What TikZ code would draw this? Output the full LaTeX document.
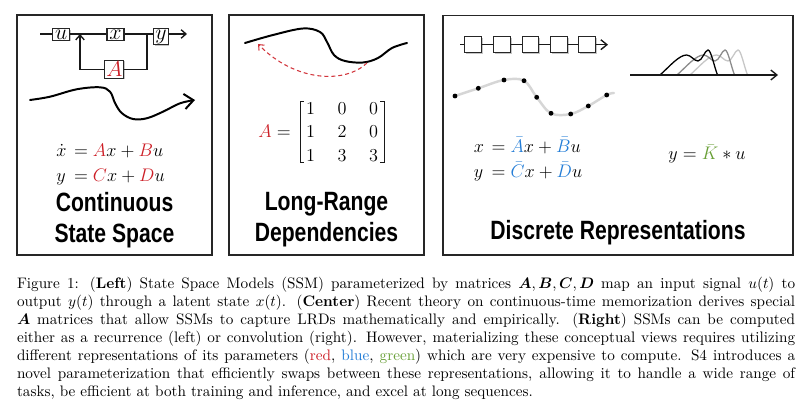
\documentclass[tikz,border=0pt]{standalone}
\usepackage{amsmath,bm}
\usepackage{fontspec}
\newfontfamily\titlefont[FakeStretch=0.8]{Liberation Sans}
\usetikzlibrary{arrows.meta,shadows,matrix}
\definecolor{myred}{RGB}{205,30,38}
\definecolor{myblue}{RGB}{35,125,215}
\definecolor{mygreen}{RGB}{105,160,55}
\begin{document}
\begin{tikzpicture}[x=0.658pt,y=-0.658pt,
  every node/.style={inner sep=0pt},
  panelbox/.style={draw=black!85,line width=1.3pt},
  shadowed/.style={drop shadow={shadow xshift=0.6pt,shadow yshift=-0.6pt,fill=black!45}},
  blk/.style={draw=black!85,line width=0.7pt,fill=white,inner xsep=1pt,inner ysep=0.7pt,font=\fontsize{13.5}{15}\selectfont,shadowed},
  chainbox/.style={draw=black!85,line width=0.7pt,fill=white,minimum width=11pt,minimum height=10.5pt,shadowed},
  wire/.style={line width=0.9pt,draw=black!90},
  arr/.style={-{Straight Barb[length=3.2pt,width=5.6pt]}},
  wave/.style={line width=1.3pt,line cap=round},
  ttl/.style={font=\titlefont\bfseries\fontsize{17.4}{20.1}\selectfont,align=center,anchor=north},
  eqn/.style={font=\fontsize{12.8}{16.4}\selectfont},
  capline/.style={anchor=base west,font=\fontsize{10}{12}\selectfont},
  brk/.style={line width=0.65pt,draw=black!90}
]
\fill[white] (0,0) rectangle (812,417);
\useasboundingbox (0,0) rectangle (812,417);

% ---------------- Panel 1 ----------------
\draw[panelbox] (17,15) rectangle (212,255);
\node[blk,anchor=north,minimum width=11.2pt] (u) at (61.3,28.3) {$u$};
\node[blk,anchor=north,minimum width=11.2pt] (x) at (115.5,28.3) {$x$};
\node[blk,anchor=north] (y) at (161,28.3) {$y$};
\node[blk,minimum width=11pt,inner sep=1pt] (A) at (114.3,69.5) {$\color{myred}A$};
\coordinate (in) at (40,34);
\coordinate (j1) at (80,34);
\coordinate (j2) at (147,34);
\coordinate (out) at (187,34);
\draw[wire] (in) -- (in -| u.west);
\draw[wire] (u.east |- j1) -- (j1) -- (j1 -| x.west);
\draw[wire] (x.east |- j2) -- (j2) -- (j2 -| y.west);
\draw[wire,arr] (y.east |- out) -- (out);
\draw[wire] (j2) |- (A.east);
\draw[wire,arr] (A.west) -| (j1);

\draw[wave,-{Straight Barb[length=6pt,width=10pt]}] plot[smooth,tension=0.6] coordinates {(30,100) (50,96.7) (76.7,89.3) (100,87.3) (110,91.7) (115,103) (121.7,113) (133,119) (146.7,118.3) (163,111.7) (180,103.3) (195,100)};

\node[eqn] (eqA) at (110.5,164) {$\begin{array}{@{}l@{\hspace{5pt}}l@{}}\dot{x} & = {\color{myred}A}x + {\color{myred}B}u\\ y & = {\color{myred}C}x + {\color{myred}D}u\end{array}$};

\node[ttl] (t1) at (114.5,192) {Continuous\\State Space};

% ---------------- Panel 2 ----------------
\draw[panelbox] (229,15) rectangle (424,255);
\draw[wave] plot[smooth,tension=0.6] coordinates {(245,43) (273,35) (303,28.5) (320,32) (327,42) (334,55) (345,61) (363,62.5) (378,58) (392,48) (407,43)};
\coordinate (rs) at (367,63);
\coordinate (re) at (258,44);
\draw[myred!90,line width=0.7pt,dash pattern=on 2.6pt off 2pt,-{Straight Barb[length=3pt,width=5pt]}] (rs) .. controls (345,84) and (295,82) .. (re);

\node[eqn,anchor=base east] (Alab) at (291,137.9) {${\color{myred}A} =$};
\matrix (M) [matrix of math nodes,inner sep=0pt,column sep=14.3pt,row sep=7.3pt,
  nodes={text height=8.2pt,text depth=0pt,minimum width=6.4pt,inner sep=0pt,font=\fontsize{12.8}{15}\selectfont}] at (342,131.7) {
  1 & 0 & 0\\
  1 & 2 & 0\\
  1 & 3 & 3\\};
\draw[brk] ([shift={(-1.5,-0.3)}]M.north west) -- ([shift={(-5,-0.3)}]M.north west) -- ([shift={(-5,0.3)}]M.south west) -- ([shift={(-1.5,0.3)}]M.south west);
\draw[brk] ([shift={(1.5,-0.3)}]M.north east) -- ([shift={(5.5,-0.3)}]M.north east) -- ([shift={(5.5,0.3)}]M.south east) -- ([shift={(1.5,0.3)}]M.south east);

\node[ttl] (t2) at (326.5,192) {Long-Range\\Dependencies};

% ---------------- Panel 3 ----------------
\draw[panelbox] (443,15.5) rectangle (793,255);
\coordinate (ch0) at (460,44.7);
\coordinate (ch6) at (608,44.7);
\foreach \i/\xx in {1/473.3,2/502.3,3/530.5,4/559.3,5/587.3}
  \node[chainbox] (b\i) at (\xx,44.7) {};
\draw[wire] (ch0) -- (b1);
\draw[wire] (b1) -- (b2);
\draw[wire] (b2) -- (b3);
\draw[wire] (b3) -- (b4);
\draw[wire] (b4) -- (b5);
\draw[wire,-{Straight Barb[length=4pt,width=6.5pt]}] (b5) -- (ch6);

\draw[black!16,line width=1.6pt,line cap=round] plot[smooth,tension=0.6] coordinates {(455,96) (478.3,88.3) (504,80) (524,80.7) (536.7,97.3) (551,113.3) (570.7,114) (588.3,106) (606.7,95) (614,93)};
\foreach \p in {(455,96),(478.3,88.3),(504,80),(524,80.7),(536.7,97.3),(551,113.3),(570.7,114),(588.3,106),(606.7,95)}
  \fill[black] \p circle[radius=1.6pt];

\foreach \s/\c in {690/black!22,677/black!45,660/black}
  \draw[line width=0.85pt,\c] ({\s-12},75) -- (\s,75) .. controls ({\s+9},67) and ({\s+19},55) .. ({\s+26.5},55) .. controls ({\s+31},55) and ({\s+34},61) .. ({\s+38},61) .. controls ({\s+42},61) and ({\s+45},50) .. ({\s+48},50) .. controls ({\s+51},50) and ({\s+54},66) .. ({\s+57.5},75) -- ({\s+64},75);
\coordinate (ax0) at (630,75);
\coordinate (ax1) at (778,75);
\draw[wire,-{Straight Barb[length=4pt,width=6.5pt]}] (ax0) -- (ax1);

\node[eqn] (eqD) at (528,160) {$\begin{array}{@{}l@{\hspace{5pt}}l@{}} x & = {\color{myblue}\bar{A}}x + {\color{myblue}\bar{B}}u\\ y & = {\color{myblue}\bar{C}}x + {\color{myblue}\bar{D}}u\end{array}$};
\node[eqn,anchor=base] (eqK) at (707,160) {$y = {\color{mygreen}\bar{K}} * u$};

\node[ttl] (t3) at (618,220) {Discrete Representations};

% ---------------- Caption ----------------
\node[capline] (cap1) at (16.7,288.5) {\makebox[512pt][s]{Figure 1: (\textbf{Left}) State Space Models (SSM) parameterized by matrices $\bm{A},\bm{B},\bm{C},\bm{D}$ map an input signal $u(t)$ to}};
\node[capline] (cap2) at (16.7,306.6) {\makebox[512pt][s]{output $y(t)$ through a latent state $x(t)$. (\textbf{Center}) Recent theory on continuous-time memorization derives special}};
\node[capline] (cap3) at (16.7,324.6) {\makebox[512pt][s]{$\bm{A}$ matrices that allow SSMs to capture LRDs mathematically and empirically. (\textbf{Right}) SSMs can be computed}};
\node[capline] (cap4) at (16.7,342.7) {\makebox[512pt][s]{either as a recurrence (left) or convolution (right). However, materializing these conceptual views requires utilizing}};
\node[capline] (cap5) at (16.7,360.8) {\makebox[512pt][s]{different representations of its parameters ({\color{myred}red}, {\color{myblue}blue}, {\color{mygreen}green}) which are very expensive to compute. S4 introduces a}};
\node[capline] (cap6) at (16.7,378.9) {\makebox[512pt][s]{novel parameterization that efficiently swaps between these representations, allowing it to handle a wide range of}};
\node[capline] (cap7) at (16.7,396.9) {tasks, be efficient at both training and inference, and excel at long sequences.};
\end{tikzpicture}
\end{document}
